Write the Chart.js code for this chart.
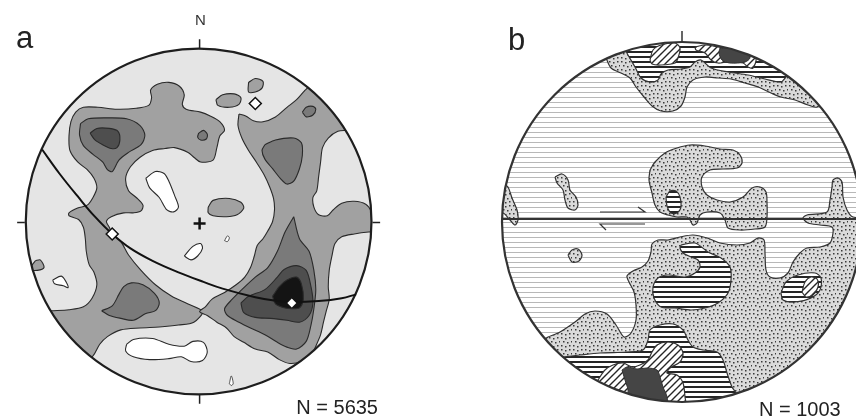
<!DOCTYPE html>
<html>
<head>
<meta charset="utf-8">
<script src="https://cdn.jsdelivr.net/npm/chart.js@4.4.1/dist/chart.umd.min.js"></script>
<style>
  html, body { margin: 0; padding: 0; background: #fff; }
  body { width: 856px; height: 418px; overflow: hidden; position: relative;
         font-family: 'Liberation Sans', Arial, Helvetica, sans-serif; color: #222; }
  canvas { position: absolute; top: 0; }
  .t { position: absolute; white-space: nowrap; }
</style>
</head>
<body>
<canvas id="netA" width="428" height="418" style="left:0"></canvas>
<canvas id="netB" width="428" height="418" style="left:428px"></canvas>
<div class="t" style="left:16px;top:22px;font-size:31px;line-height:31px">a</div>
<div class="t" style="left:508px;top:24px;font-size:31px;line-height:31px">b</div>
<div class="t" style="left:195px;top:12px;font-size:15px;line-height:15px;color:#333">N</div>
<div class="t" style="left:268px;width:110px;text-align:right;top:397px;font-size:20px;line-height:20px">N = 5635</div>
<div class="t" style="left:759px;top:399px;font-size:20px;line-height:20px">N = 1003</div>
<script>
// Equal-area nets, coordinates in net units: primitive circle radius 180, north up.
const R = 180;

// ---- Net a: contoured pole density (levels 1..5 from light to black) ----
const aWestGray = [[-153,-93],[-135,-92],[-120,-89],[-111,-80],[-106,-66],[-109,-53],[-114,-45],[-117,-31],[-118,-18],[-120,-6],[-125,2],[-135,6],[-135,9],[-126,14],[-116,17],[-110,25],[-106,35],[-109,45],[-116,54],[-126,62],[-134,74],[-135,89],[-133,104],[-128,114],[-120,119],[-105,119],[-85,117],[-65,118],[-52,121],[-49,129],[-50,137],[-43,143],[-31,145],[-20,141],[-15,132],[-17,122],[-13,117],[2,114],[12,110],[22,104],[27,95],[22,89],[19,77],[15,64],[2,62],[-5,67],[-11,72],[-25,77],[-35,76],[-48,74],[-61,67],[-71,57],[-76,45],[-73,32],[-65,25],[-58,17],[-60,11],[-68,9],[-78,9],[-91,5],[-96,0],[-93,-6],[-90,-13],[-81,-21],[-73,-35],[-60,-51],[-45,-66],[-28,-78],[-11,-86],[4,-94],[-5,-105],[-21,-108],[-41,-110],[-61,-111],[-81,-113],[-95,-120],[-103,-128],[-110,-140],[-135,-160],[-185,-110]];
const aEastGray = [[42,112],[49,110],[57,105],[67,104],[80,109],[92,119],[102,127],[110,136],[114,140],[130,165],[195,100],[155,95],[145,94],[135,87],[129,77],[127,62],[125,47],[123,32],[119,25],[120,15],[125,7],[134,6],[140,12],[149,19],[162,21],[174,18],[180,10],[182,0],[195,-10],[177,-11],[162,-13],[149,-16],[142,-23],[139,-35],[136,-51],[135,-68],[136,-81],[133,-93],[130,-105],[127,-118],[122,-130],[117,-140],[107,-146],[95,-148],[84,-144],[72,-136],[59,-133],[47,-126],[37,-120],[29,-111],[19,-105],[9,-98],[1,-94],[7,-89],[14,-81],[27,-74],[39,-66],[48,-58],[54,-48],[58,-36],[61,-25],[67,-18],[72,-10],[77,0],[79,12],[78,24],[74,36],[68,49],[60,62],[52,74],[45,87],[41,100]];
const aTopGray = [[52,145],[59,149],[67,146],[66,139],[59,135],[52,135]];
const aUpperOval = [[18,127],[25,132],[37,133],[44,129],[42,122],[32,119],[20,121]];
const aCentreOval = [[10,15],[15,22],[32,24],[44,20],[47,14],[40,7],[29,5],[15,6],[10,9]];
const aEdgeGray = [[-170,-41],[-165,-40],[-161,-48],[-168,-51],[-176,-50]];
const aNwMid = [[-123,102],[-115,107],[-95,108],[-75,107],[-61,100],[-56,90],[-60,80],[-73,72],[-83,64],[-90,52],[-95,54],[-100,62],[-110,70],[-120,79],[-124,90]];
const aNwSpot = [[0,92],[5,95],[9,91],[8,86],[2,85],[-1,88]];
const aSwMid = [[-101,-93],[-90,-88],[-83,-76],[-78,-68],[-70,-64],[-58,-66],[-46,-75],[-41,-85],[-45,-93],[-55,-96],[-68,-103],[-81,-101],[-93,-98]];
const aNeSpot = [[108,114],[112,119],[119,120],[122,117],[119,111],[112,109]];
const aEastMid = [[69,80],[80,85],[99,87],[107,82],[108,69],[105,55],[99,42],[92,39],[85,45],[77,55],[69,65],[66,74]];
const aSeMid = [[99,5],[105,-18],[115,-31],[120,-51],[122,-71],[120,-91],[117,-108],[112,-125],[102,-133],[92,-131],[82,-126],[69,-118],[54,-111],[42,-105],[30,-98],[27,-91],[35,-81],[45,-71],[59,-58],[72,-48],[82,-31],[90,-11]];
const aNwDark = [[-113,92],[-106,97],[-93,97],[-84,94],[-82,85],[-85,77],[-91,76],[-100,80],[-108,85]];
const aSeDark = [[44,-85],[52,-78],[69,-71],[82,-58],[89,-50],[102,-46],[112,-51],[117,-68],[119,-85],[115,-98],[105,-105],[92,-103],[75,-101],[59,-100],[47,-95]];
const aSeCore = [[77,-78],[84,-68],[92,-61],[102,-58],[107,-65],[109,-81],[105,-90],[97,-91],[89,-90],[80,-86]];
const aWhiteWest = [[-152,-61],[-143,-57],[-138,-63],[-136,-69],[-141,-67],[-150,-65]];
const aWhiteNorth = [[-55,45],[-45,52],[-36,50],[-31,42],[-25,27],[-21,15],[-26,10],[-33,12],[-41,25],[-51,35]];
const aWhiteCentre = [[-15,-36],[-6,-26],[2,-23],[4,-28],[-1,-36],[-8,-40]];
const aWhiteSouth = [[-75,-128],[-68,-123],[-48,-122],[-31,-128],[-15,-130],[-6,-125],[5,-126],[9,-136],[4,-145],[-8,-146],[-18,-141],[-31,-143],[-51,-144],[-68,-141],[-76,-135]];
const aTinyA = [[27,-20],[30,-15],[32,-17],[30,-21]];
const aTinyB = [[32,-169],[34,-161],[36,-169],[34,-171]];
const aGreatCircle = [[-163,75],[-145,50],[-125,25],[-108,5],[-90,-13],[-71,-28],[-48,-41],[-21,-53],[5,-63],[25,-70],[59,-79],[82,-83],[97,-84],[125,-83],[149,-80],[164,-76]];
const aPoles = [[-90,-13],[59,123]];
const aMaximum = [[97,-85]];
const aCentre = [[1,-2]];
const aTicks = [[[1,180],[1,190]],[[-181,-1],[-189,-1]],[[181,-1],[189,-1]],[[1,-180],[1,-190]]];

// ---- Net b: pattern-filled density levels ----
const bNorthDots = [[-76,164],[-71,154],[-61,149],[-52,144],[-46,135],[-38,125],[-30,116],[-21,111],[-9,111],[-1,116],[3,125],[5,135],[11,142],[23,145],[36,144],[49,143],[63,139],[76,135],[89,129],[99,125],[113,122],[126,117],[135,115],[150,130],[60,200],[-60,200],[-95,170]];
const bNorthLines = [[-56,171],[-54,167],[-47,155],[-41,144],[-32,140],[-24,142],[-21,148],[-14,152],[-1,153],[8,155],[13,160],[19,162],[29,154],[46,150],[66,147],[83,143],[99,140],[104,145],[120,160],[0,200],[-70,185]];
const bNorthHatchW = [[-32,162],[-29,172],[-21,177],[-7,179],[-2,174],[-4,164],[-7,159],[-21,157],[-30,158]];
const bNorthHatchE = [[13,175],[23,177],[36,175],[66,169],[74,164],[71,154],[66,155],[61,159],[46,160],[36,159],[29,162],[23,169],[14,172]];
const bNorthSolid = [[38,174],[53,173],[66,169],[68,164],[63,160],[48,159],[40,162],[37,169]];
const bCentreDots = [[-32,52],[-27,60],[-17,69],[-5,74],[8,77],[23,76],[38,73],[51,72],[58,67],[60,59],[55,54],[41,53],[28,52],[20,45],[20,35],[25,27],[35,22],[48,20],[61,25],[70,34],[78,35],[84,30],[85,19],[85,5],[83,-5],[73,-7],[58,-8],[46,-6],[43,2],[38,9],[25,10],[18,7],[15,-1],[11,-3],[8,2],[5,5],[-5,5],[-14,7],[-22,10],[-27,17],[-30,29],[-33,42]];
const bCentreLines = [[-16,25],[-12,31],[-6,31],[-2,25],[-1,15],[-5,9],[-11,9],[-15,16]];
const bWestDots1 = [[-127,45],[-120,48],[-114,42],[-112,32],[-106,25],[-104,17],[-107,12],[-114,14],[-117,22],[-119,32],[-125,39]];
const bWestDots2 = [[-179,39],[-174,35],[-170,24],[-165,12],[-164,2],[-167,-3],[-172,2],[-179,9],[-195,10],[-195,40]];
const bWestDots3 = [[-114,-33],[-110,-28],[-104,-27],[-100,-33],[-103,-39],[-110,-40]];
const bSouthDots = [[-134,-115],[-122,-110],[-107,-100],[-97,-92],[-87,-89],[-75,-92],[-66,-103],[-58,-115],[-51,-111],[-46,-98],[-46,-83],[-48,-70],[-53,-60],[-55,-54],[-49,-49],[-40,-45],[-34,-39],[-31,-30],[-30,-22],[-24,-18],[-14,-18],[-2,-15],[11,-13],[25,-16],[38,-21],[55,-23],[68,-21],[76,-16],[82,-18],[83,-31],[84,-48],[88,-55],[98,-56],[106,-51],[111,-40],[118,-31],[125,-26],[138,-25],[148,-21],[151,-11],[150,-5],[138,-3],[126,-1],[121,4],[125,7],[145,10],[148,22],[150,35],[151,42],[156,44],[160,40],[161,25],[165,12],[171,5],[200,0],[200,-200],[-60,-200],[-150,-130]];
const bSouthLines1 = [[-1,-23],[13,-21],[26,-30],[39,-36],[48,-45],[49,-58],[46,-71],[36,-81],[23,-86],[9,-88],[-7,-86],[-21,-85],[-28,-76],[-29,-65],[-24,-56],[-14,-53],[3,-55],[13,-51],[18,-45],[16,-38],[9,-35],[1,-31],[-2,-26]];
const bSouthLines2 = [[99,-71],[104,-60],[116,-53],[133,-51],[139,-56],[138,-68],[129,-76],[113,-80],[101,-78]];
const bSouthHatch = [[120,-70],[123,-60],[129,-55],[135,-57],[136,-65],[131,-73],[124,-75]];
const bBaseLines = [[-119,-135],[-102,-133],[-82,-131],[-55,-130],[-39,-128],[-34,-118],[-32,-108],[-22,-103],[-9,-102],[1,-108],[6,-118],[11,-125],[21,-128],[35,-130],[41,-138],[45,-151],[50,-165],[55,-173],[60,-200],[-40,-205],[-130,-160]];
const bBaseHatch = [[-84,-158],[-77,-148],[-69,-143],[-59,-141],[-50,-145],[-42,-143],[-34,-138],[-30,-130],[-25,-123],[-15,-120],[-4,-123],[1,-131],[-2,-140],[-12,-146],[-15,-151],[-5,-153],[1,-161],[3,-175],[5,-200],[-90,-185]];
const bBaseSolid = [[-60,-148],[-55,-145],[-45,-147],[-35,-146],[-25,-148],[-22,-155],[-19,-165],[-15,-175],[-15,-200],[-52,-200],[-54,-168],[-57,-158]];
const bFault = [[-180,3],[186,3]];
const bShearUpper = [[-82,10],[-37,10],[-44,15]];
const bShearLower = [[-37,-2],[-82,-2],[-76,-8]];
const bTick = [[0,180],[0,191]];

// ---- fill patterns ----
function tile(w, h, paint) {
  const c = document.createElement('canvas');
  c.width = w; c.height = h;
  const g = c.getContext('2d');
  paint(g, w, h);
  return g.createPattern(c, 'repeat');
}
const thinRules = tile(5, 5, g => {
  g.fillStyle = '#fff'; g.fillRect(0, 0, 5, 5);
  g.fillStyle = '#b8b8b8'; g.fillRect(0, 2, 5, 1);
});
const boldRules = tile(5, 5, g => {
  g.fillStyle = '#fff'; g.fillRect(0, 0, 5, 5);
  g.fillStyle = '#262626'; g.fillRect(0, 1, 5, 2);
});
const hatch = tile(7, 7, g => {
  g.fillStyle = '#fff'; g.fillRect(0, 0, 7, 7);
  g.strokeStyle = '#262626'; g.lineWidth = 1.4;
  g.beginPath();
  g.moveTo(-1, 8); g.lineTo(8, -1);
  g.moveTo(-1, 1); g.lineTo(1, -1);
  g.moveTo(6, 8); g.lineTo(8, 6);
  g.stroke();
});
const stipple = tile(12, 12, g => {
  g.fillStyle = '#dadada'; g.fillRect(0, 0, 12, 12);
  g.fillStyle = '#3a3a3a';
  [[1,1],[5,2],[9,1],[3,5],[7,6],[11,5],[1,9],[5,10],[9,9]].forEach(([x, y]) => g.fillRect(x, y, 1.5, 1.5));
});

// ---- dataset builders ----
const pts = arr => arr.map(([x, y]) => ({x, y}));
const ring = arr => pts(arr.concat([arr[0]]));
function area(data, fillStyle, stroke, width) {
  return { data: ring(data), fill: 'shape', backgroundColor: fillStyle, borderColor: stroke,
           borderWidth: width, borderJoinStyle: 'round', pointRadius: 0, tension: 0.3 };
}
function path(data, color, width, tension) {
  return { data: pts(data), fill: false, borderColor: color, borderWidth: width,
           pointRadius: 0, tension: tension || 0, free: true };
}
function marks(data, opts) {
  return Object.assign({ data: pts(data), showLine: false, fill: false, free: true }, opts);
}

// primitive circle: fills the net, clips the contour areas, then outlines the net
function netPlugin(inside, edge, edgeWidth) {
  const outline = chart => {
    const {ctx, scales: {x, y}} = chart;
    const cx = x.getPixelForValue(0), cy = y.getPixelForValue(0);
    const r = x.getPixelForValue(R) - cx;
    ctx.save();
    ctx.beginPath(); ctx.arc(cx, cy, r, 0, Math.PI * 2);
    ctx.strokeStyle = edge; ctx.lineWidth = edgeWidth; ctx.stroke();
    ctx.restore();
  };
  return {
    id: 'net',
    beforeDatasetsDraw(chart) {
      const {ctx, scales: {x, y}} = chart;
      const cx = x.getPixelForValue(0), cy = y.getPixelForValue(0);
      const r = x.getPixelForValue(R) - cx;
      ctx.save();
      ctx.beginPath(); ctx.arc(cx, cy, r, 0, Math.PI * 2);
      ctx.fillStyle = inside; ctx.fill();
      ctx.clip();
      chart.$netClip = true;
    },
    beforeDatasetDraw(chart, args) {
      if (chart.$netClip && chart.data.datasets[args.index].free) {
        chart.ctx.restore(); chart.$netClip = false; outline(chart);
      }
    },
    afterDatasetsDraw(chart) {
      if (chart.$netClip) { chart.ctx.restore(); chart.$netClip = false; outline(chart); }
    }
  };
}

function stereonet(id, xMin, xMax, datasets, plugin) {
  datasets.forEach((d, i) => { d.order = datasets.length - i; });
  return new Chart(document.getElementById(id), {
    type: 'line',
    data: { datasets },
    options: {
      responsive: false, animation: false, devicePixelRatio: 1, events: [],
      layout: { padding: 0 },
      scales: {
        x: { type: 'linear', min: xMin, max: xMax, display: false },
        y: { type: 'linear', min: -196, max: 222, display: false }
      },
      plugins: { legend: { display: false }, tooltip: { enabled: false } }
    },
    plugins: [plugin]
  });
}

// ---- net a ----
const L2 = '#a1a1a1', L3 = '#7a7a7a', L4 = '#4e4e4e', L5 = '#141414', EA = '#2a2a2a';
const aSets = [
  area(aWestGray, L2, EA, 1.1), area(aEastGray, L2, EA, 1.1),
  area(aTopGray, L2, EA, 1.1), area(aUpperOval, L2, EA, 1.1), area(aCentreOval, L2, EA, 1.1), area(aEdgeGray, L2, EA, 1.1),
  area(aNwMid, L3, EA, 1.1), area(aNwSpot, L3, EA, 1.1), area(aSwMid, L3, EA, 1.1), area(aNeSpot, L3, EA, 1.1),
  area(aEastMid, L3, EA, 1.1), area(aSeMid, L3, EA, 1.1),
  area(aNwDark, L4, EA, 1.1), area(aSeDark, L4, EA, 1.1),
  area(aSeCore, L5, EA, 1.1),
  area(aWhiteWest, '#fff', EA, 1.1), area(aWhiteNorth, '#fff', EA, 1.1), area(aWhiteCentre, '#fff', EA, 1.1),
  area(aWhiteSouth, '#fff', EA, 1.1), area(aTinyA, '#fff', EA, 0.8), area(aTinyB, '#fff', EA, 0.8),
  path(aGreatCircle, '#111', 2, 0.4),
  ...aTicks.map(t => path(t, '#222', 1.5)),
  marks(aCentre, { pointStyle: 'cross', pointRadius: 6, pointBorderWidth: 2.5, pointBorderColor: '#111' }),
  marks(aPoles, { pointStyle: 'rectRot', pointRadius: 6, pointBorderWidth: 1.5, pointBorderColor: '#111', pointBackgroundColor: '#fff' }),
  marks(aMaximum, { pointStyle: 'rectRot', pointRadius: 4.5, pointBorderWidth: 0, pointBorderColor: '#fff', pointBackgroundColor: '#fff' })
];
stereonet('netA', -198, 230, aSets, netPlugin('#e5e5e5', '#1e1e1e', 2.2));

// ---- net b ----
const EB = '#333';
const bSets = [
  area(bNorthDots, stipple, EB, 1.2), area(bCentreDots, stipple, EB, 1.2),
  area(bWestDots1, stipple, EB, 1.2), area(bWestDots2, stipple, EB, 1.2), area(bWestDots3, stipple, EB, 1.2),
  area(bSouthDots, stipple, EB, 1.2),
  area(bNorthLines, boldRules, EB, 1.2), area(bCentreLines, boldRules, EB, 1.2),
  area(bSouthLines1, boldRules, EB, 1.2), area(bSouthLines2, boldRules, EB, 1.2), area(bBaseLines, boldRules, EB, 1.2),
  area(bNorthHatchW, hatch, EB, 1.2), area(bNorthHatchE, hatch, EB, 1.2),
  area(bSouthHatch, hatch, EB, 1.2), area(bBaseHatch, hatch, EB, 1.2),
  area(bNorthSolid, '#454545', EB, 1), area(bBaseSolid, '#454545', EB, 1),
  path(bFault, '#333', 2.2),
  path(bShearUpper, '#333', 1.2), path(bShearLower, '#333', 1.2),
  path(bTick, '#333', 1.5)
];
stereonet('netB', -254, 174, bSets, netPlugin(thinRules, '#333', 2.2));
</script>
</body>
</html>
